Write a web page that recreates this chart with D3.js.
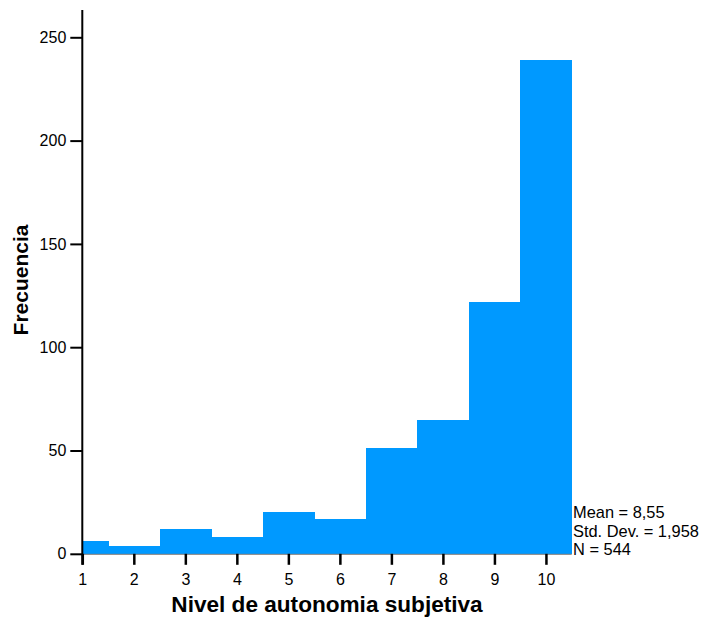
<!DOCTYPE html>
<html>
<head>
<meta charset="utf-8">
<script src="https://cdn.jsdelivr.net/npm/d3@7/dist/d3.min.js"></script>
<style>
  html, body { margin: 0; padding: 0; background: #fff; }
  svg { display: block; font-family: "Liberation Sans", Arial, sans-serif; }
</style>
</head>
<body>
<svg id="chart" width="703" height="618"></svg>
<script>
// Histogram of "Nivel de autonomia subjetiva"
const categories = [1, 2, 3, 4, 5, 6, 7, 8, 9, 10];
const frequencies = [6, 4, 12, 8, 20, 17, 51, 65, 122, 239];
const yTicks = [0, 50, 100, 150, 200, 250];
const statsLines = ["Mean = 8,55", "Std. Dev. = 1,958", "N = 544"];
const xTitle = "Nivel de autonomia subjetiva";
const yTitle = "Frecuencia";

const svg = d3.select("#chart");
const plotLeft = 82.3, plotRight = 571.7, plotTop = 10, plotBottom = 553.8;

const x = d3.scaleLinear().domain([1, 10.5]).range([plotLeft, plotRight]);
const y = d3.scaleLinear().domain([0, 250]).range([plotBottom, 37.3]);

// Bars: first bin starts at the axis minimum, the rest are centred on their value
const bins = categories.map((c, i) => ({
  x0: Math.max(1, c - 0.5),
  x1: c + 0.5,
  n: frequencies[i]
}));

svg.append("g")
  .attr("shape-rendering", "crispEdges")
  .selectAll("rect")
  .data(bins)
  .join("rect")
  .attr("x", d => x(d.x0))
  .attr("width", d => x(d.x1) - x(d.x0) + 0.5)
  .attr("y", d => y(d.n))
  .attr("height", d => y(0) - y(d.n))
  .attr("fill", "#0099ff");

// thin baseline under bars
svg.append("line")
  .attr("x1", plotLeft).attr("x2", plotRight)
  .attr("y1", plotBottom + 0.5).attr("y2", plotBottom + 0.5)
  .attr("stroke", "#777").attr("stroke-width", 1);

// Y axis
const yAxis = svg.append("g")
  .attr("transform", `translate(${plotLeft},0)`)
  .call(d3.axisLeft(y).tickValues(yTicks).tickSize(12).tickPadding(4).tickFormat(d3.format("d")));
yAxis.select(".domain").remove();
yAxis.selectAll(".tick line").attr("stroke", "#000").attr("stroke-width", 2);
yAxis.selectAll(".tick text").attr("font-size", 16).attr("fill", "#000")
  .attr("font-family", "'Liberation Sans', Arial, sans-serif");
svg.append("line")
  .attr("x1", plotLeft).attr("x2", plotLeft)
  .attr("y1", plotTop).attr("y2", plotBottom + 11)
  .attr("stroke", "#000").attr("stroke-width", 2);

// X axis
const xAxis = svg.append("g")
  .attr("transform", `translate(0,${plotBottom})`)
  .call(d3.axisBottom(x).tickValues(categories).tickSize(11).tickPadding(9).tickFormat(d3.format("d")));
xAxis.select(".domain").remove();
xAxis.selectAll(".tick line").attr("stroke", "#000").attr("stroke-width", 2.5);
xAxis.selectAll(".tick text").attr("font-size", 16).attr("fill", "#000")
  .attr("font-family", "'Liberation Sans', Arial, sans-serif");

// Axis titles
svg.append("text")
  .attr("x", 327)
  .attr("y", 612)
  .attr("text-anchor", "middle")
  .attr("font-size", 22.6)
  .attr("font-weight", "bold")
  .text(xTitle);

svg.append("text")
  .attr("transform", `translate(28,280) rotate(-90)`)
  .attr("text-anchor", "middle")
  .attr("font-size", 21)
  .attr("font-weight", "bold")
  .text(yTitle);

// Summary statistics
svg.append("g")
  .selectAll("text")
  .data(statsLines)
  .join("text")
  .attr("x", 573)
  .attr("y", (d, i) => 518 + i * 18.5)
  .attr("font-size", 16.4)
  .attr("fill", "#000")
  .text(d => d);
</script>
</body>
</html>
